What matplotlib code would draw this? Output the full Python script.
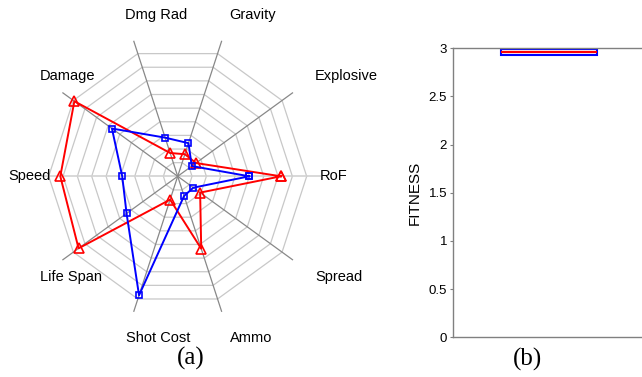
import numpy as np
import matplotlib.pyplot as plt

# radar axes, counter-clockwise starting at RoF (pointing right)
categories = ["RoF", "Explosive", "Gravity", "Dmg Rad", "Damage",
              "Speed", "Life Span", "Shot Cost", "Ammo", "Spread"]

# values as a fraction of the outer ring
red_values = [0.80, 0.175, 0.18, 0.19, 0.99, 0.91, 0.95, 0.19, 0.59, 0.215]
blue_values = [0.555, 0.135, 0.27, 0.315, 0.63, 0.43, 0.49, 0.97, 0.16, 0.15]

# label centres (in units of the outer ring radius)
label_x = [1.21, 1.31, 0.584, -0.166, -0.854, -1.145, -0.827, -0.153, 0.568, 1.25]
label_y = [0.0, 0.778, 1.25, 1.25, 0.774, 0.0, -0.777, -1.25, -1.25, -0.78]

# fitness box (b)
fit_q1 = 2.934
fit_med = 2.958
fit_q3 = 2.996
fit_ticks = [0, 0.5, 1, 1.5, 2, 2.5, 3]
fit_ticklabels = ["0", "0.5", "1", "1.5", "2", "2.5", "3"]

W, H = 642, 377
N_RINGS = 9

plt.rcParams['font.family'] = ['Liberation Sans', 'DejaVu Sans']


def draw_radar(fig):
    # centre of the web in pixels, outer ring radius in pixels
    cx, cy, R = 177.7, H - 176.3, 129.0
    ax = fig.add_axes([0, 0, 360 / W, 1])
    ax.set_xlim(-cx / R, (360 - cx) / R)
    ax.set_ylim(-cy / R, (H - cy) / R)
    ax.axis('off')

    n = len(categories)
    ang = np.arange(n) * 2 * np.pi / n
    ang_closed = np.append(ang, ang[0])

    # rings
    for k in range(1, N_RINGS + 1):
        r = k / N_RINGS
        ax.plot(r * np.cos(ang_closed), r * np.sin(ang_closed),
                color='#c8c8c8', lw=0.9, zorder=1)
    # horizontal axis is lighter and runs through
    ax.plot([-1.1, 1.1], [0, 0], color='#d2d2d2', lw=1.2, zorder=1)
    # spokes
    for a in ang:
        if np.isclose(np.sin(a), 0):
            continue
        ax.plot([0, 1.1 * np.cos(a)], [0, 1.1 * np.sin(a)],
                color='#888888', lw=0.9, zorder=2)

    red = np.append(red_values, red_values[0])
    blue = np.append(blue_values, blue_values[0])
    ax.plot(red * np.cos(ang_closed), red * np.sin(ang_closed), color='red',
            lw=1.4, marker='^', ms=7, mfc='none', mew=1.2, zorder=3)
    ax.plot(blue * np.cos(ang_closed), blue * np.sin(ang_closed), color='blue',
            lw=1.4, marker='s', ms=5, mfc='none', mew=1.2, zorder=4)

    for name, x, y in zip(categories, label_x, label_y):
        ax.text(x, y, name, ha='center', va='center', fontsize=10.5)


def draw_fitness(fig):
    left, right = 453.3, 644.7
    top, bottom = 48.3, 337.3
    ax = fig.add_axes([left / W, (H - bottom) / H, (right - left) / W, (bottom - top) / H])
    stats = [{'q1': fit_q1, 'med': fit_med, 'q3': fit_q3,
              'whislo': fit_q1, 'whishi': fit_q3, 'fliers': []}]
    ax.bxp(stats, positions=[1], widths=0.5, showcaps=False,
           patch_artist=True,
           boxprops=dict(facecolor='white', edgecolor='blue', lw=1.5),
           medianprops=dict(color='red', lw=1.6),
           whiskerprops=dict(color='blue', lw=1.0))
    ax.set_xlim(0.5, 1.5)
    ax.set_ylim(0, 3)
    ax.set_xticks([])
    ax.set_yticks(fit_ticks)
    ax.set_yticklabels(fit_ticklabels, fontsize=9.5)
    ax.tick_params(axis='y', direction='out', length=2.5, width=0.8,
                   color='#808080', pad=2)
    ax.set_ylabel("FITNESS", fontsize=11, labelpad=5)
    for side in ['top', 'bottom', 'left']:
        ax.spines[side].set_color('#808080')
        ax.spines[side].set_linewidth(1.0)
    ax.spines['right'].set_visible(False)


def main():
    fig = plt.figure(figsize=(W / 100, H / 100), dpi=100)
    draw_radar(fig)
    draw_fitness(fig)
    fig.text(191 / W, 1 - 358 / H, "(a)", ha='center', va='center',
             fontsize=18, family='Liberation Serif')
    fig.text(527.7 / W, 1 - 359 / H, "(b)", ha='center', va='center',
             fontsize=18, family='Liberation Serif')
    fig.savefig("out.png", dpi=100)


if __name__ == "__main__":
    main()
